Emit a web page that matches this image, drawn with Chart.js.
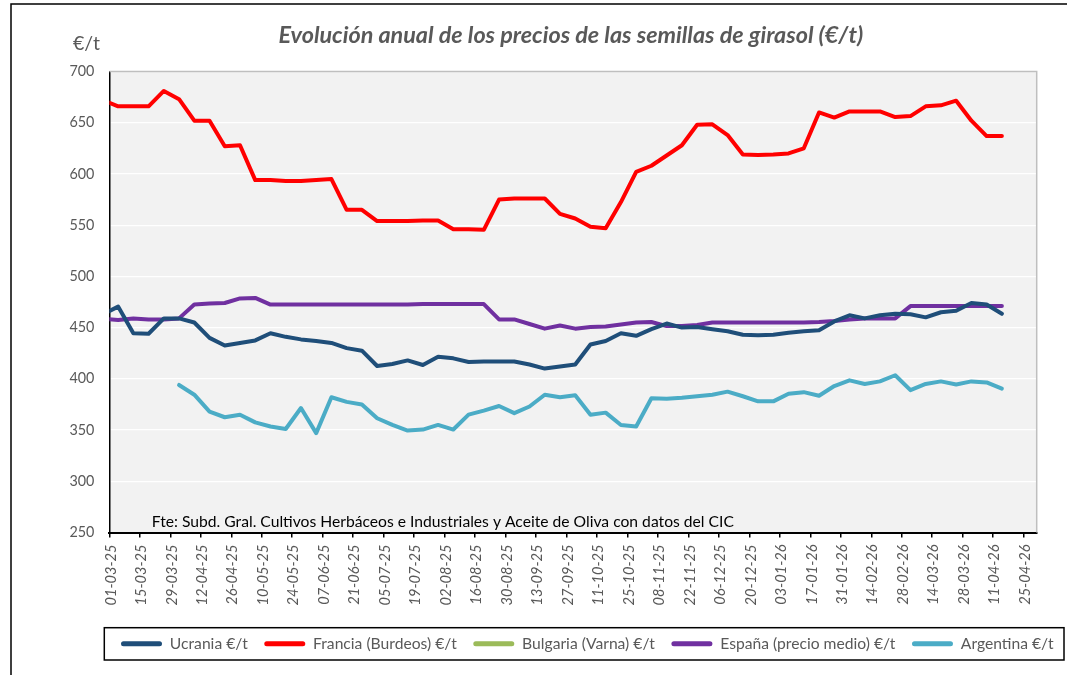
<!DOCTYPE html>
<html>
<head>
<meta charset="utf-8">
<script src="https://cdn.jsdelivr.net/npm/chart.js@4.4.1/dist/chart.umd.min.js"></script>
<style>
html,body{margin:0;padding:0;background:#fff;}
#wrap{width:1067px;height:675px;position:relative;}
</style>
</head>
<body>
<div id="wrap"><canvas id="c" width="1067" height="675"></canvas></div>
<script>
// ---------------- DATA ----------------
const dates = ['26-02-25','05-03-25','12-03-25','19-03-25','26-03-25','02-04-25','09-04-25','16-04-25','23-04-25','30-04-25',
  '07-05-25','14-05-25','21-05-25','28-05-25','04-06-25','11-06-25','18-06-25','25-06-25','02-07-25','09-07-25',
  '16-07-25','23-07-25','30-07-25','06-08-25','13-08-25','20-08-25','27-08-25','03-09-25','10-09-25','17-09-25',
  '24-09-25','01-10-25','08-10-25','15-10-25','22-10-25','29-10-25','05-11-25','12-11-25','19-11-25','26-11-25',
  '03-12-25','10-12-25','17-12-25','24-12-25','31-12-25','07-01-26','14-01-26','21-01-26','28-01-26','04-02-26',
  '11-02-26','18-02-26','25-02-26','04-03-26','11-03-26','18-03-26','25-03-26','01-04-26','08-04-26','15-04-26'];

const tickLabels = ['01-03-25','15-03-25','29-03-25','12-04-25','26-04-25','10-05-25','24-05-25','07-06-25','21-06-25','05-07-25',
  '19-07-25','02-08-25','16-08-25','30-08-25','13-09-25','27-09-25','11-10-25','25-10-25','08-11-25','22-11-25',
  '06-12-25','20-12-25','03-01-26','17-01-26','31-01-26','14-02-26','28-02-26','14-03-26','28-03-26','11-04-26','25-04-26'];
const axisEndDate = '01-05-26';

const ucrania = [463,470.5,444.5,444,459,459,455,440,432.5,435,
  437.5,444.5,441,438.5,437,435,430,427.5,412.5,414.5,
  418,413.5,421.5,420,416.5,417,417,417,414,410,
  412,414,433.5,437,444.5,442,448.5,454,450,450.5,
  448.5,446.5,443,442.5,443,445,446.5,447.5,456,462,
  459,462,463.5,463,460,465,466.5,474,472.5,463.5];

const francia = [672,666,666,666,681,673,652,652,627,628,
  594,594,593,593,594,595,565,565,554,554,
  554,554.5,554.5,546,546,545.5,575,576,576,576,
  561,556.5,548.5,547,572.5,602,608,618,628,648,
  648.5,638,619,618.5,619,620,625,660,655,661,
  661,661,655.5,656.5,666,667,671.5,652,637,637];

const bulgaria = [];

const espana = [458.5,457.5,459,458,458,459,472.5,473.5,474,478.5,
  479,472.5,472.5,472.5,472.5,472.5,472.5,472.5,472.5,472.5,
  472.5,473,473,473,473,473,458,458,453.5,449,
  452,449,450.5,451,453,455,455.5,451.5,451.5,452.5,
  455,455,455,455,455,455,455,455.5,456.5,458,
  459,459,459,471,471,471,471,471,471,471];

const argentina = [null,null,null,null,null,394,384.5,368,362.5,365,
  357.5,353.5,351,371.5,347,382,377.5,375,361.5,355,
  349.5,350.5,355,350.5,365,369,373.5,366.5,373,384.5,
  382,384,365,367,355,353.5,381,380.5,381.5,383,
  384.5,387.5,383,378,378,385.5,387,383.5,393,398.5,
  395,397.5,403.5,389,395,397.5,394.5,397.5,396.5,390.5];

const seriesNames = ['Ucrania €/t','Francia (Burdeos) €/t','Bulgaria (Varna) €/t','España (precio medio) €/t','Argentina €/t'];
const yMin = 250, yMax = 700, yStep = 50;
const titleText = 'Evolución anual de los precios de las semillas de girasol (€/t)';
const unitText = '€/t';
const sourceText = 'Fte: Subd. Gral. Cultivos Herbáceos e Industriales y Aceite de Oliva con datos del CIC';

// ---------------- STYLE / LAYOUT ----------------
const colors = ['#1f4e79','#ff0000','#9bbb59','#7030a0','#4bacc6'];
const FAMILY = 'Lato, "Open Sans", sans-serif';
const GREY = '#595959';
const AREA = {left:109.4, right:1036.7, top:71.5, bottom:532.5};

const mctx = document.createElement('canvas').getContext('2d');
function fitSize(text, style, target) {
  mctx.font = style + ' 100px ' + FAMILY;
  return 100 * target / mctx.measureText(text).width;
}
const yFont = fitSize('250', '', 25);
const xFont = fitSize('01-03-25', 'italic', 61);
const lFont = fitSize('Ucrania €/t', '', 78);
const titleFont = fitSize(titleText, 'italic bold', 585);
const unitFont = fitSize(unitText, '', 27);
const srcFont = fitSize(sourceText, '', 583);
const LPAD = 16.5, BOXW = 41;
const legendH = lFont + LPAD + 10;
const xAxisH = 675 - AREA.bottom - legendH;

function dayNum(s) {
  const [d, m, y] = s.split('-').map(Number);
  return Date.UTC(2000 + y, m - 1, d) / 86400000;
}
const day0 = dayNum(tickLabels[0]);
const xMax = dayNum(axisEndDate) - day0;

function series(vals) {
  return dates.map((d, i) => ({x: dayNum(d) - day0, y: (vals[i] === undefined ? null : vals[i])}));
}
const allSeries = [ucrania, francia, bulgaria, espana, argentina];

const datasets = allSeries.map((vals, i) => ({
  label: seriesNames[i],
  data: vals.length ? series(vals) : [],
  borderColor: colors[i],
  backgroundColor: colors[i],
  borderWidth: 4,
  pointRadius: 0,
  pointHoverRadius: 0,
  tension: 0,
  borderJoinStyle: 'round',
  borderCapStyle: 'round',
  spanGaps: false,
  clip: 0
}));

const deco = {
  id: 'deco',
  beforeDraw(chart) {
    const {ctx, chartArea: a} = chart;
    ctx.save();
    ctx.fillStyle = '#fff';
    ctx.fillRect(0, 0, chart.width, chart.height);
    ctx.strokeStyle = '#000';
    ctx.lineWidth = 1.5;
    ctx.strokeRect(11, 4, 1300, 900);
    ctx.fillStyle = '#f2f2f2';
    ctx.fillRect(a.left, a.top, a.right - a.left, a.bottom - a.top);
    ctx.restore();
  },
  afterLayout(chart) {
    const lg = chart.legend;
    lg.left = 121 - LPAD;
    lg.right = 1200;
    lg.top = 643.7 - LPAD - lFont / 2;
  },
  beforeDatasetsDraw(chart) {
    const {ctx, chartArea: a} = chart;
    ctx.save();
    ctx.strokeStyle = '#bfbfbf';
    ctx.lineWidth = 1.5;
    ctx.beginPath();
    ctx.moveTo(a.left, a.top);
    ctx.lineTo(a.right, a.top);
    ctx.lineTo(a.right, a.bottom);
    ctx.stroke();
    ctx.restore();
  },
  afterDraw(chart) {
    const {ctx} = chart;
    ctx.save();
    ctx.textBaseline = 'alphabetic';
    ctx.fillStyle = GREY;
    ctx.textAlign = 'center';
    ctx.font = 'italic bold ' + titleFont + 'px ' + FAMILY;
    ctx.fillText(titleText, 570.8, 42.5);
    ctx.textAlign = 'left';
    ctx.font = unitFont + 'px ' + FAMILY;
    ctx.fillText(unitText, 73, 50);
    ctx.fillStyle = '#000';
    ctx.font = srcFont + 'px ' + FAMILY;
    ctx.fillText(sourceText, 151.7, 526.5);
    ctx.strokeStyle = '#000';
    ctx.lineWidth = 1.5;
    ctx.strokeRect(104.3, 627.7, 1064 - 104.3, 660 - 627.7);
    ctx.restore();
  }
};

new Chart(document.getElementById('c'), {
  type: 'line',
  data: {datasets},
  plugins: [deco],
  options: {
    responsive: false,
    devicePixelRatio: 1,
    animation: false,
    events: [],
    layout: {padding: {left: 0, right: 1067 - AREA.right, top: AREA.top, bottom: 0}},
    scales: {
      x: {
        type: 'linear',
        min: 0,
        max: xMax,
        afterFit(s) { s.height = xAxisH; },
        afterBuildTicks(s) { s.ticks = tickLabels.map(l => ({value: dayNum(l) - day0})); },
        grid: {drawOnChartArea: false, drawTicks: true, tickLength: 5, color: '#000', lineWidth: 1.5},
        border: {display: true, color: '#000', width: 2},
        ticks: {
          autoSkip: false,
          maxRotation: 90,
          minRotation: 90,
          padding: 7,
          labelOffset: 1.5,
          color: GREY,
          font: {family: FAMILY, size: xFont, style: 'italic'},
          callback(v) {
            const idx = tickLabels.findIndex(l => dayNum(l) - day0 === v);
            return idx >= 0 ? tickLabels[idx] : '';
          }
        }
      },
      y: {
        min: yMin,
        max: yMax,
        afterFit(s) { s.width = AREA.left; },
        grid: {color: '#ffffff', lineWidth: 1.3, drawTicks: false},
        border: {display: true, color: '#000', width: 1.5},
        ticks: {
          stepSize: yStep,
          padding: 15,
          color: GREY,
          font: {family: FAMILY, size: yFont}
        }
      }
    },
    plugins: {
      title: {display: false},
      tooltip: {enabled: false},
      legend: {
        display: true,
        position: 'bottom',
        align: 'start',
        labels: {
          boxWidth: BOXW,
          boxHeight: 5,
          padding: LPAD,
          color: GREY,
          useBorderRadius: true,
          borderRadius: 2.5,
          font: {family: FAMILY, size: lFont},
          generateLabels(chart) {
            const items = Chart.defaults.plugins.legend.labels.generateLabels(chart);
            items.forEach(it => { it.lineWidth = 0; it.fillStyle = it.strokeStyle; });
            return items;
          }
        }
      }
    }
  }
});
</script>
</body>
</html>
